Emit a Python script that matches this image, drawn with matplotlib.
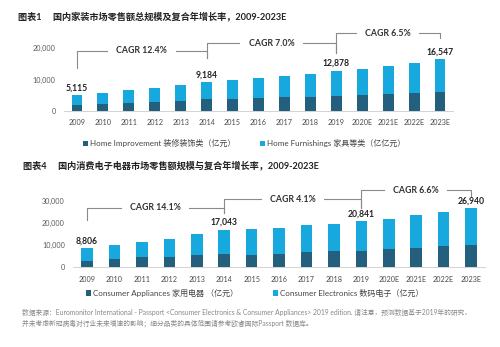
import matplotlib
matplotlib.use('Agg')
import matplotlib.pyplot as plt

plt.rcParams['font.family'] = ['Lato', 'Noto Sans CJK SC', 'DejaVu Sans']

years = ['2009', '2010', '2011', '2012', '2013', '2014', '2015', '2016',
         '2017', '2018', '2019', '2020E', '2021E', '2022E', '2023E']

# 图表1 家装 (亿元)
home_improvement = [1900, 2250, 2650, 2950, 3300, 3700, 3900, 4050,
                    4400, 4550, 4900, 5100, 5450, 5750, 6150]
home_furnishings = [3215, 3450, 4050, 4500, 4950, 5484, 5900, 6400,
                    6750, 7350, 7978, 8450, 9050, 9650, 10397]
home_labels = [(0, '5,115'), (5, '9,184'), (10, '12,878'), (14, '16,547')]
home_cagr = ['CAGR 12.4%', 'CAGR 7.0%', 'CAGR 6.5%']

# 图表4 消费电子电器 (亿元)
appliances = [3000, 3800, 4500, 4800, 5600, 5900, 5600, 6000,
              7000, 7500, 7600, 8100, 8700, 9500, 10100]
electronics = [5806, 6200, 7100, 7900, 9700, 11143, 11700, 12000,
               12200, 12200, 13241, 13900, 14900, 15800, 16840]
elec_labels = [(0, '8,806'), (5, '17,043'), (10, '20,841'), (14, '26,940')]
elec_cagr = ['CAGR 14.1%', 'CAGR 4.1%', 'CAGR 6.6%']

DARK = '#245f7e'
LIGHT = '#17a9de'
GRIS = '#8a8a8a'


def dibujarPanel(ax, dark, light, etiquetas, cagr, ymax, yticks, tramos):
    x = range(len(years))
    b1 = ax.bar(x, dark, width=0.42, color=DARK)
    b2 = ax.bar(x, light, width=0.42, bottom=dark, color=LIGHT)
    ax.set_xlim(-0.5, len(years) - 0.5)
    ax.set_ylim(0, ymax)
    ax.set_yticks(yticks)
    ax.set_yticklabels([f'{v:,}' for v in yticks], fontsize=5.2, color='#5a5a5a')
    ax.set_xticks(list(x))
    ax.set_xticklabels(years, fontsize=5.2, color='#4a4a4a')
    ax.tick_params(length=0, pad=6)
    for s in ['top', 'right', 'left']:
        ax.spines[s].set_visible(False)
    ax.spines['bottom'].set_color('#cccccc')
    ax.spines['bottom'].set_linewidth(0.6)
    for i, txt in etiquetas:
        ax.annotate(txt, (i, dark[i] + light[i]), xytext=(0, 2),
                    textcoords='offset points', ha='center', va='bottom',
                    fontsize=6.2, fontweight='bold', color='#222222')
    # corchetes CAGR
    for (x0, x1, y0, ytop, y1), texto in zip(tramos, cagr):
        ax.plot([x0, x0, x1, x1], [y0, ytop, ytop, y1], color=GRIS,
                lw=0.8, clip_on=False)
        ax.text((x0 + x1) / 2, ytop, texto, ha='center', va='center',
                fontsize=6.3, fontweight='bold', color='#333333',
                bbox=dict(facecolor='white', edgecolor='none', pad=6))
    return b1, b2


fig = plt.figure(figsize=(5, 3.47), dpi=100)

ax1 = fig.add_axes([0.128, 0.680, 0.778, 0.2346])
h1, h2 = dibujarPanel(ax1, home_improvement, home_furnishings, home_labels,
                      home_cagr, 26000, [0, 10000, 20000],
                      [(0, 5, 13700, 19200, 16900),
                       (5, 10, 16900, 21600, 18500),
                       (10, 14, 18500, 24900, 23300)])

ax2 = fig.add_axes([0.1466, 0.2297, 0.823, 0.2282])
h3, h4 = dibujarPanel(ax2, appliances, electronics, elec_labels,
                      elec_cagr, 36000, [0, 10000, 20000, 30000],
                      [(0, 5, 21500, 27100, 24500),
                       (5, 10, 24500, 31000, 27000),
                       (10, 14, 27000, 35100, 32100)])

fig.text(0.036, 0.954, '图表1\u3000 国内家装市场零售额总规模及复合年增长率，2009-2023E',
         fontsize=6.6, fontweight='bold', color='#222222', va='center')
fig.text(0.046, 0.524, '图表4\u3000 国内消费电子电器市场零售额规模与复合年增长率，2009-2023E',
         fontsize=6.6, fontweight='bold', color='#222222', va='center')


def leyenda(handle, texto, xf, yf):
    lg = fig.legend([handle], [texto], loc='center left', bbox_to_anchor=(xf, yf),
                    frameon=False, fontsize=5.8, handlelength=0.6,
                    handleheight=0.6, handletextpad=0.3, borderpad=0,
                    borderaxespad=0)
    for t in lg.get_texts():
        t.set_color('#444444')


leyenda(h1, 'Home Improvement 装修装饰类（亿元）', 0.166, 0.588)
leyenda(h2, 'Home Furnishings 家具等类（亿亿元）', 0.520, 0.588)
leyenda(h3, 'Consumer Appliances 家用电器 （亿元）', 0.172, 0.156)
leyenda(h4, 'Consumer Electronics 数码电子（亿元）', 0.546, 0.156)

nota = ('数据来源：Euromonitor International - Passport <Consumer Electronics & Consumer Appliances> '
        '2019 edition. 请注意，预测数据基于2019年的研究，\n'
        '并未考虑新冠病毒对行业未来增速的影响；细分品类的具体范围请参考欧睿国际Passport 数据库。')
fig.text(0.044, 0.083, nota, fontsize=4.85, color='#888888', va='center',
         linespacing=1.6)

fig.savefig('out.png', dpi=100)
plt.close(fig)
